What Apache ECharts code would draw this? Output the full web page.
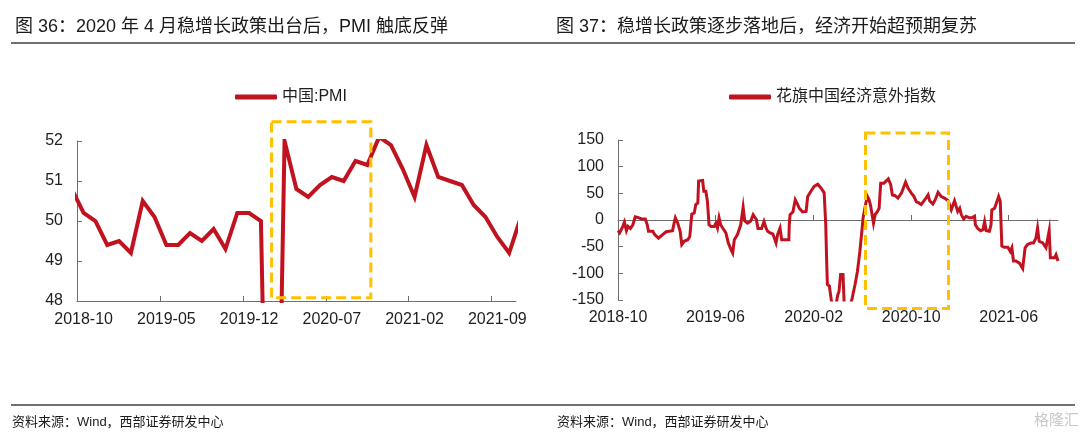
<!DOCTYPE html>
<html><head><meta charset="utf-8">
<script src="https://cdn.jsdelivr.net/npm/echarts@6/dist/echarts.min.js"></script>
<style>html,body{margin:0;padding:0;background:#fff}#c{width:1080px;height:444px}</style>
</head><body><div id="c"></div>
<script>
// ---------- texts ----------
const titleLeft = '图 36：2020 年 4 月稳增长政策出台后，PMI 触底反弹';
const titleRight = '图 37：稳增长政策逐步落地后，经济开始超预期复苏';
const sourceText = '资料来源：Wind，西部证券研发中心';
const watermarkText = '格隆汇';

// ---------- left chart: China PMI (monthly) ----------
const pmiName = '中国:PMI';
const pmiMonths = ['2018-09','2018-10','2018-11','2018-12','2019-01','2019-02','2019-03','2019-04','2019-05','2019-06','2019-07','2019-08','2019-09','2019-10','2019-11','2019-12','2020-01','2020-02','2020-03','2020-04','2020-05','2020-06','2020-07','2020-08','2020-09','2020-10','2020-11','2020-12','2021-01','2021-02','2021-03','2021-04','2021-05','2021-06','2021-07','2021-08','2021-09','2021-10','2021-11'];
const pmiValues = [50.8,50.2,50.0,49.4,49.5,49.2,50.5,50.1,49.4,49.4,49.7,49.5,49.8,49.3,50.2,50.2,50.0,35.7,52.0,50.8,50.6,50.9,51.1,51.0,51.5,51.4,52.1,51.9,51.3,50.6,51.9,51.1,51.0,50.9,50.4,50.1,49.6,49.2,50.1];
const pmiTickLabels = ['2018-10','2019-05','2019-12','2020-07','2021-02','2021-09'];
const pmiYMin = 48, pmiYMax = 52, pmiYStep = 1;
// highlight box, in data units (x: months from 2018-10)
const pmiHighlight = {from: 15.9, to: 24.3, low: 48.08, high: 52.48};

// ---------- right chart: Citi China economic surprise index ----------
const citiName = '花旗中国经济意外指数';
const citiDates = ['2018-10-01','2018-10-05','2018-10-13','2018-10-17','2018-10-22','2018-10-26','2018-11-01','2018-11-07','2018-11-13','2018-11-19','2018-11-29','2018-12-08','2018-12-13','2018-12-16','2018-12-27','2018-12-31','2019-01-10','2019-01-21','2019-01-29','2019-02-06','2019-02-14','2019-02-19','2019-02-21','2019-02-27','2019-03-05','2019-03-09','2019-03-15','2019-03-24','2019-03-29','2019-04-03','2019-04-09','2019-04-13','2019-04-18','2019-04-20','2019-04-30','2019-05-03','2019-05-08','2019-05-12','2019-05-16','2019-05-21','2019-05-29','2019-06-02','2019-06-06','2019-06-10','2019-06-14','2019-06-19','2019-06-27','2019-07-03','2019-07-10','2019-07-14','2019-07-18','2019-07-26','2019-08-03','2019-08-09','2019-08-13','2019-08-20','2019-08-28','2019-09-03','2019-09-11','2019-09-15','2019-09-24','2019-09-30','2019-10-05','2019-10-09','2019-10-15','2019-10-22','2019-10-30','2019-11-03','2019-11-09','2019-11-13','2019-12-01','2019-12-02','2019-12-04','2019-12-11','2019-12-17','2019-12-23','2019-12-27','2020-01-04','2020-01-13','2020-01-17','2020-01-21','2020-01-25','2020-02-02','2020-02-11','2020-02-19','2020-02-27','2020-03-02','2020-03-04','2020-03-06','2020-03-11','2020-03-15','2020-03-19','2020-03-26','2020-04-01','2020-04-04','2020-04-08','2020-04-14','2020-04-17','2020-04-29','2020-05-07','2020-05-14','2020-05-20','2020-05-26','2020-05-31','2020-06-03','2020-06-10','2020-06-14','2020-06-18','2020-06-22','2020-06-29','2020-07-03','2020-07-09','2020-07-13','2020-07-17','2020-07-25','2020-07-29','2020-08-05','2020-08-11','2020-08-15','2020-08-21','2020-08-29','2020-09-07','2020-09-17','2020-09-23','2020-10-01','2020-10-08','2020-10-14','2020-10-20','2020-10-26','2020-11-04','2020-11-12','2020-11-16','2020-11-24','2020-11-30','2020-12-07','2020-12-15','2020-12-23','2021-01-01','2021-01-09','2021-01-17','2021-01-21','2021-01-25','2021-01-30','2021-02-03','2021-02-09','2021-02-15','2021-02-23','2021-03-01','2021-03-08','2021-03-10','2021-03-16','2021-03-23','2021-03-29','2021-04-02','2021-04-06','2021-04-14','2021-04-18','2021-04-20','2021-04-27','2021-05-01','2021-05-07','2021-05-11','2021-05-15','2021-05-21','2021-05-30','2021-06-05','2021-06-09','2021-06-13','2021-06-19','2021-06-28','2021-07-06','2021-07-12','2021-07-18','2021-07-27','2021-08-02','2021-08-08','2021-08-12','2021-08-16','2021-08-25','2021-09-02','2021-09-10','2021-09-13','2021-09-23','2021-09-27','2021-10-02'];
const citiValues = [-20,-24,-12,-4,-20,-12,-16,-9,6,5,2,2,-9,-21,-21,-27,-34,-27,-22,-21,-20,-2,4,-6,-21,-46,-40,-37,-31,11,13,29,32,73,74,54,54,35,-9,-12,-12,-6,-15,4,-9,-15,-24,-43,-56,-62,-37,-27,-9,24,-2,-6,-2,10,1,-16,-16,-3,-15,-21,-24,-26,-43,-27,-15,-37,-37,-9,10,15,38,29,22,15,16,44,47,54,63,67,60,51,-9,-71,-121,-124,-146,-165,-165,-140,-134,-102,-102,-160,-170,-146,-121,-96,-59,-21,4,32,44,38,26,-6,10,16,22,69,69,67,77,66,47,46,41,51,71,60,51,44,34,32,29,38,47,36,30,38,52,44,41,36,19,36,26,16,22,10,2,7,4,4,7,-9,-16,-20,-18,-3,-20,-21,-9,19,22,24,44,35,-49,-51,-51,-59,-52,-77,-77,-81,-91,-52,-46,-43,-43,-34,-15,-40,-43,-52,-20,-71,-71,-65,-77];
const citiTickLabels = ['2018-10','2019-06','2020-02','2020-10','2021-06'];
const citiStart = '2018-10-01', citiEnd = '2021-10-02';
const citiYMin = -150, citiYMax = 150, citiYStep = 50;
const citiHighlight = {from: '2020-06-09', to: '2021-01-02', low: -166, high: 163};

// ---------- build ----------
const ts = s => Date.parse(s + 'T00:00:00Z');
const ym = v => { const d = new Date(v); return d.getUTCFullYear() + '-' + String(d.getUTCMonth() + 1).padStart(2, '0'); };
const pmiBase = pmiMonths.indexOf('2018-10');
const pmiData = pmiMonths.map((m, i) => [i - pmiBase, pmiValues[i]]);
const pmiLabelVals = pmiTickLabels.map(l => pmiMonths.indexOf(l) - pmiBase);
const pmiTickVals = pmiLabelVals.map(v => v - 0.5);
const citiData = citiDates.map((d, i) => [ts(d), citiValues[i]]);
const citiTickVals = citiTickLabels.map(l => ts(l + '-01'));

const RED = '#C1121F';
const AXIS = '#6e6e6e';
const labelFont = {fontFamily: '"Liberation Sans", Arial, sans-serif', fontSize: 16, color: '#1e1e1e'};
const cjk = '"Liberation Sans", "Noto Sans CJK SC", sans-serif';

const chart = echarts.init(document.getElementById('c'), null, {renderer: 'canvas'});
chart.setOption({
  animation: false,
  backgroundColor: '#ffffff',
  grid: [
    {left: 77, top: 141, width: 439, height: 160, outerBoundsMode: 'none'},
    {left: 618, top: 140, width: 440, height: 160, outerBoundsMode: 'none'}
  ],
  legend: [
    {data: [pmiName], left: 235, top: 89, padding: 0, icon: 'roundRect', itemWidth: 42, itemHeight: 5,
     itemStyle: {color: RED}, textStyle: {fontFamily: cjk, fontSize: 16, color: '#1e1e1e'}},
    {data: [citiName], left: 729, top: 89, padding: 0, icon: 'roundRect', itemWidth: 42, itemHeight: 5,
     itemStyle: {color: RED}, textStyle: {fontFamily: cjk, fontSize: 16, color: '#1e1e1e'}}
  ],
  xAxis: [
    {type: 'value', gridIndex: 0, min: -0.56, max: 36.58, position: 'bottom',
     axisLine: {show: true, onZero: false, lineStyle: {color: AXIS, width: 1}},
     axisTick: {show: true, inside: true, length: 5, customValues: pmiTickVals, lineStyle: {color: AXIS}},
     axisLabel: Object.assign({customValues: pmiLabelVals, margin: 11,
       formatter: v => pmiMonths[Math.round(v) + pmiBase]}, labelFont),
     splitLine: {show: false}},
    {type: 'value', gridIndex: 1, min: ts(citiStart), max: ts(citiEnd), position: 'bottom',
     axisLine: {show: false, onZero: false},
     axisTick: {show: false},
     axisLabel: Object.assign({customValues: citiTickVals, margin: 10, formatter: v => ym(v)}, labelFont),
     splitLine: {show: false}},
    {type: 'value', gridIndex: 1, min: ts(citiStart), max: ts(citiEnd), position: 'bottom',
     axisLine: {show: true, onZero: true, lineStyle: {color: AXIS, width: 1}},
     axisTick: {show: true, inside: true, length: 5, customValues: citiTickVals, lineStyle: {color: AXIS}},
     axisLabel: {show: false},
     splitLine: {show: false}}
  ],
  yAxis: [
    {type: 'value', gridIndex: 0, min: pmiYMin, max: pmiYMax, interval: pmiYStep,
     axisLine: {show: true, onZero: false, lineStyle: {color: AXIS, width: 1}},
     axisTick: {show: true, inside: true, length: 5, lineStyle: {color: AXIS}},
     axisLabel: Object.assign({margin: 14}, labelFont),
     splitLine: {show: false}},
    {type: 'value', gridIndex: 1, min: citiYMin, max: citiYMax, interval: citiYStep,
     axisLine: {show: true, onZero: false, lineStyle: {color: AXIS, width: 1}},
     axisTick: {show: true, inside: true, length: 5, lineStyle: {color: AXIS}},
     axisLabel: Object.assign({margin: 14}, labelFont),
     splitLine: {show: false}}
  ],
  series: [
    {name: pmiName, type: 'line', xAxisIndex: 0, yAxisIndex: 0, data: pmiData, showSymbol: false, symbol: 'none',
     clip: true, lineStyle: {color: RED, width: 4, join: 'miter'}, itemStyle: {color: RED}},
    {name: citiName, type: 'line', xAxisIndex: 1, yAxisIndex: 1, data: citiData, showSymbol: false, symbol: 'none',
     clip: true, lineStyle: {color: RED, width: 3, join: 'miter'}, itemStyle: {color: RED}}
  ]
});

function box(seriesIndex, x0, x1, lo, hi) {
  const a = chart.convertToPixel({seriesIndex: seriesIndex}, [x0, hi]);
  const b = chart.convertToPixel({seriesIndex: seriesIndex}, [x1, lo]);
  return {type: 'rect', z: 100, silent: true,
    shape: {x: a[0], y: a[1], width: b[0] - a[0], height: b[1] - a[1]},
    style: {fill: 'none', stroke: '#FFC000', lineWidth: 3, lineDash: [10, 5]}};
}
const textEl = (t, x, y, size, color) => ({type: 'text', z: 50, silent: true,
  style: {text: t, x: x, y: y, fill: color, font: size + 'px ' + cjk, verticalAlign: 'middle', align: 'left'}});
const lineEl = (x1, y1, x2, y2, color, w) => ({type: 'line', z: 50, silent: true,
  shape: {x1: x1, y1: y1, x2: x2, y2: y2}, style: {stroke: color, lineWidth: w}});

chart.setOption({graphic: [
  textEl(titleLeft, 15, 27, 18, '#1a1a1a'),
  textEl(titleRight, 556, 27, 18, '#1a1a1a'),
  lineEl(11, 43, 1075, 43, '#404040', 1.5),
  lineEl(11, 405, 1075, 405, '#404040', 1.5),
  textEl(sourceText, 12, 422, 13, '#1a1a1a'),
  textEl(sourceText, 557, 422, 13, '#1a1a1a'),
  textEl(watermarkText, 1034, 421, 15, '#c8c8c8'),
  box(0, pmiHighlight.from, pmiHighlight.to, pmiHighlight.low, pmiHighlight.high),
  box(1, ts(citiHighlight.from), ts(citiHighlight.to), citiHighlight.low, citiHighlight.high)
]});
</script>
</body></html>
